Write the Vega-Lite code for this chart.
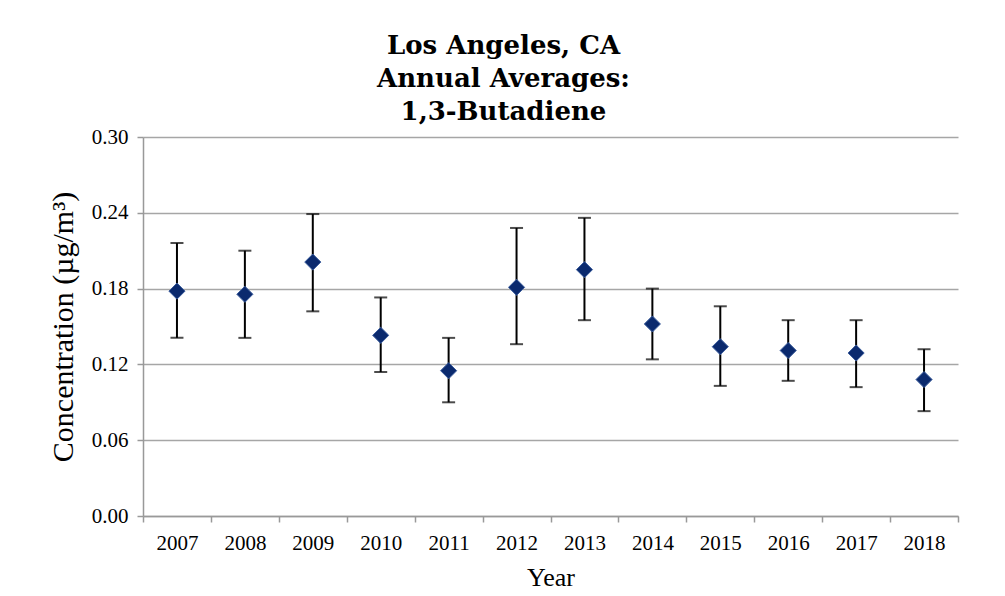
{
  "$schema": "https://vega.github.io/schema/vega-lite/v6.json",
  "width": 815,
  "height": 379,
  "autosize": {"type": "none"},
  "padding": {"left": 143, "top": 137, "right": 47, "bottom": 80},
  "background": "white",
  "config": {
    "font": "Liberation Serif",
    "view": {"stroke": null},
    "axis": {"labelFont": "Liberation Serif", "titleFont": "Liberation Serif", "labelColor": "black", "titleColor": "black", "titleFontWeight": "normal"}
  },
  "title": {
    "text": ["Los Angeles, CA", "Annual Averages:", "1,3-Butadiene"],
    "font": "DejaVu Serif",
    "fontSize": 26,
    "fontWeight": "bold",
    "lineHeight": 33,
    "color": "black",
    "anchor": "middle",
    "frame": "bounds",
    "offset": 1
  },
  "data": {
    "values": [
      {"year": "2007", "mean": 0.178, "lo": 0.141, "hi": 0.216},
      {"year": "2008", "mean": 0.1755, "lo": 0.141, "hi": 0.210},
      {"year": "2009", "mean": 0.201, "lo": 0.162, "hi": 0.239},
      {"year": "2010", "mean": 0.143, "lo": 0.114, "hi": 0.173},
      {"year": "2011", "mean": 0.115, "lo": 0.090, "hi": 0.141},
      {"year": "2012", "mean": 0.181, "lo": 0.136, "hi": 0.228},
      {"year": "2013", "mean": 0.195, "lo": 0.155, "hi": 0.236},
      {"year": "2014", "mean": 0.152, "lo": 0.124, "hi": 0.180},
      {"year": "2015", "mean": 0.134, "lo": 0.103, "hi": 0.166},
      {"year": "2016", "mean": 0.131, "lo": 0.107, "hi": 0.155},
      {"year": "2017", "mean": 0.129, "lo": 0.102, "hi": 0.155},
      {"year": "2018", "mean": 0.108, "lo": 0.083, "hi": 0.132}
    ]
  },
  "encoding": {
    "x": {
      "field": "year",
      "type": "ordinal",
      "scale": {"type": "band", "paddingInner": 0, "paddingOuter": 0},
      "axis": {
        "title": "Year",
        "titleFontSize": 26,
        "titlePadding": 11,
        "labelFontSize": 21,
        "labelAngle": 0,
        "labelPadding": 10,
        "tickBand": "extent",
        "tickSize": 6,
        "tickColor": "#999999",
        "tickWidth": 1.5,
        "domainColor": "#999999",
        "domainWidth": 1.5,
        "grid": false
      }
    }
  },
  "layer": [
    {
      "mark": {"type": "rule", "color": "black", "strokeWidth": 2},
      "encoding": {
        "y": {
          "field": "lo",
          "type": "quantitative",
          "scale": {"domain": [0, 0.3], "nice": false},
          "axis": {
            "title": "Concentration (µg/m³)",
            "titleFontSize": 30,
            "titlePadding": 13,
            "labelFontSize": 21,
            "labelPadding": 9,
            "values": [0, 0.06, 0.12, 0.18, 0.24, 0.30],
            "format": ".2f",
            "tickSize": 6,
            "tickColor": "#999999",
            "tickWidth": 1.5,
            "domainColor": "#999999",
            "domainWidth": 1.5,
            "grid": true,
            "gridColor": "#a6a6a6",
            "gridWidth": 1.5
          }
        },
        "y2": {"field": "hi"}
      }
    },
    {
      "mark": {"type": "tick", "color": "black", "size": 13, "thickness": 2, "orient": "horizontal"},
      "encoding": {"y": {"field": "lo", "type": "quantitative"}}
    },
    {
      "mark": {"type": "tick", "color": "black", "size": 13, "thickness": 2, "orient": "horizontal"},
      "encoding": {"y": {"field": "hi", "type": "quantitative"}}
    },
    {
      "mark": {"type": "point", "shape": "diamond", "filled": true, "size": 260, "fill": "#0b2a6e", "stroke": "#3a5c9c", "strokeWidth": 1, "opacity": 1},
      "encoding": {"y": {"field": "mean", "type": "quantitative"}}
    }
  ]
}
